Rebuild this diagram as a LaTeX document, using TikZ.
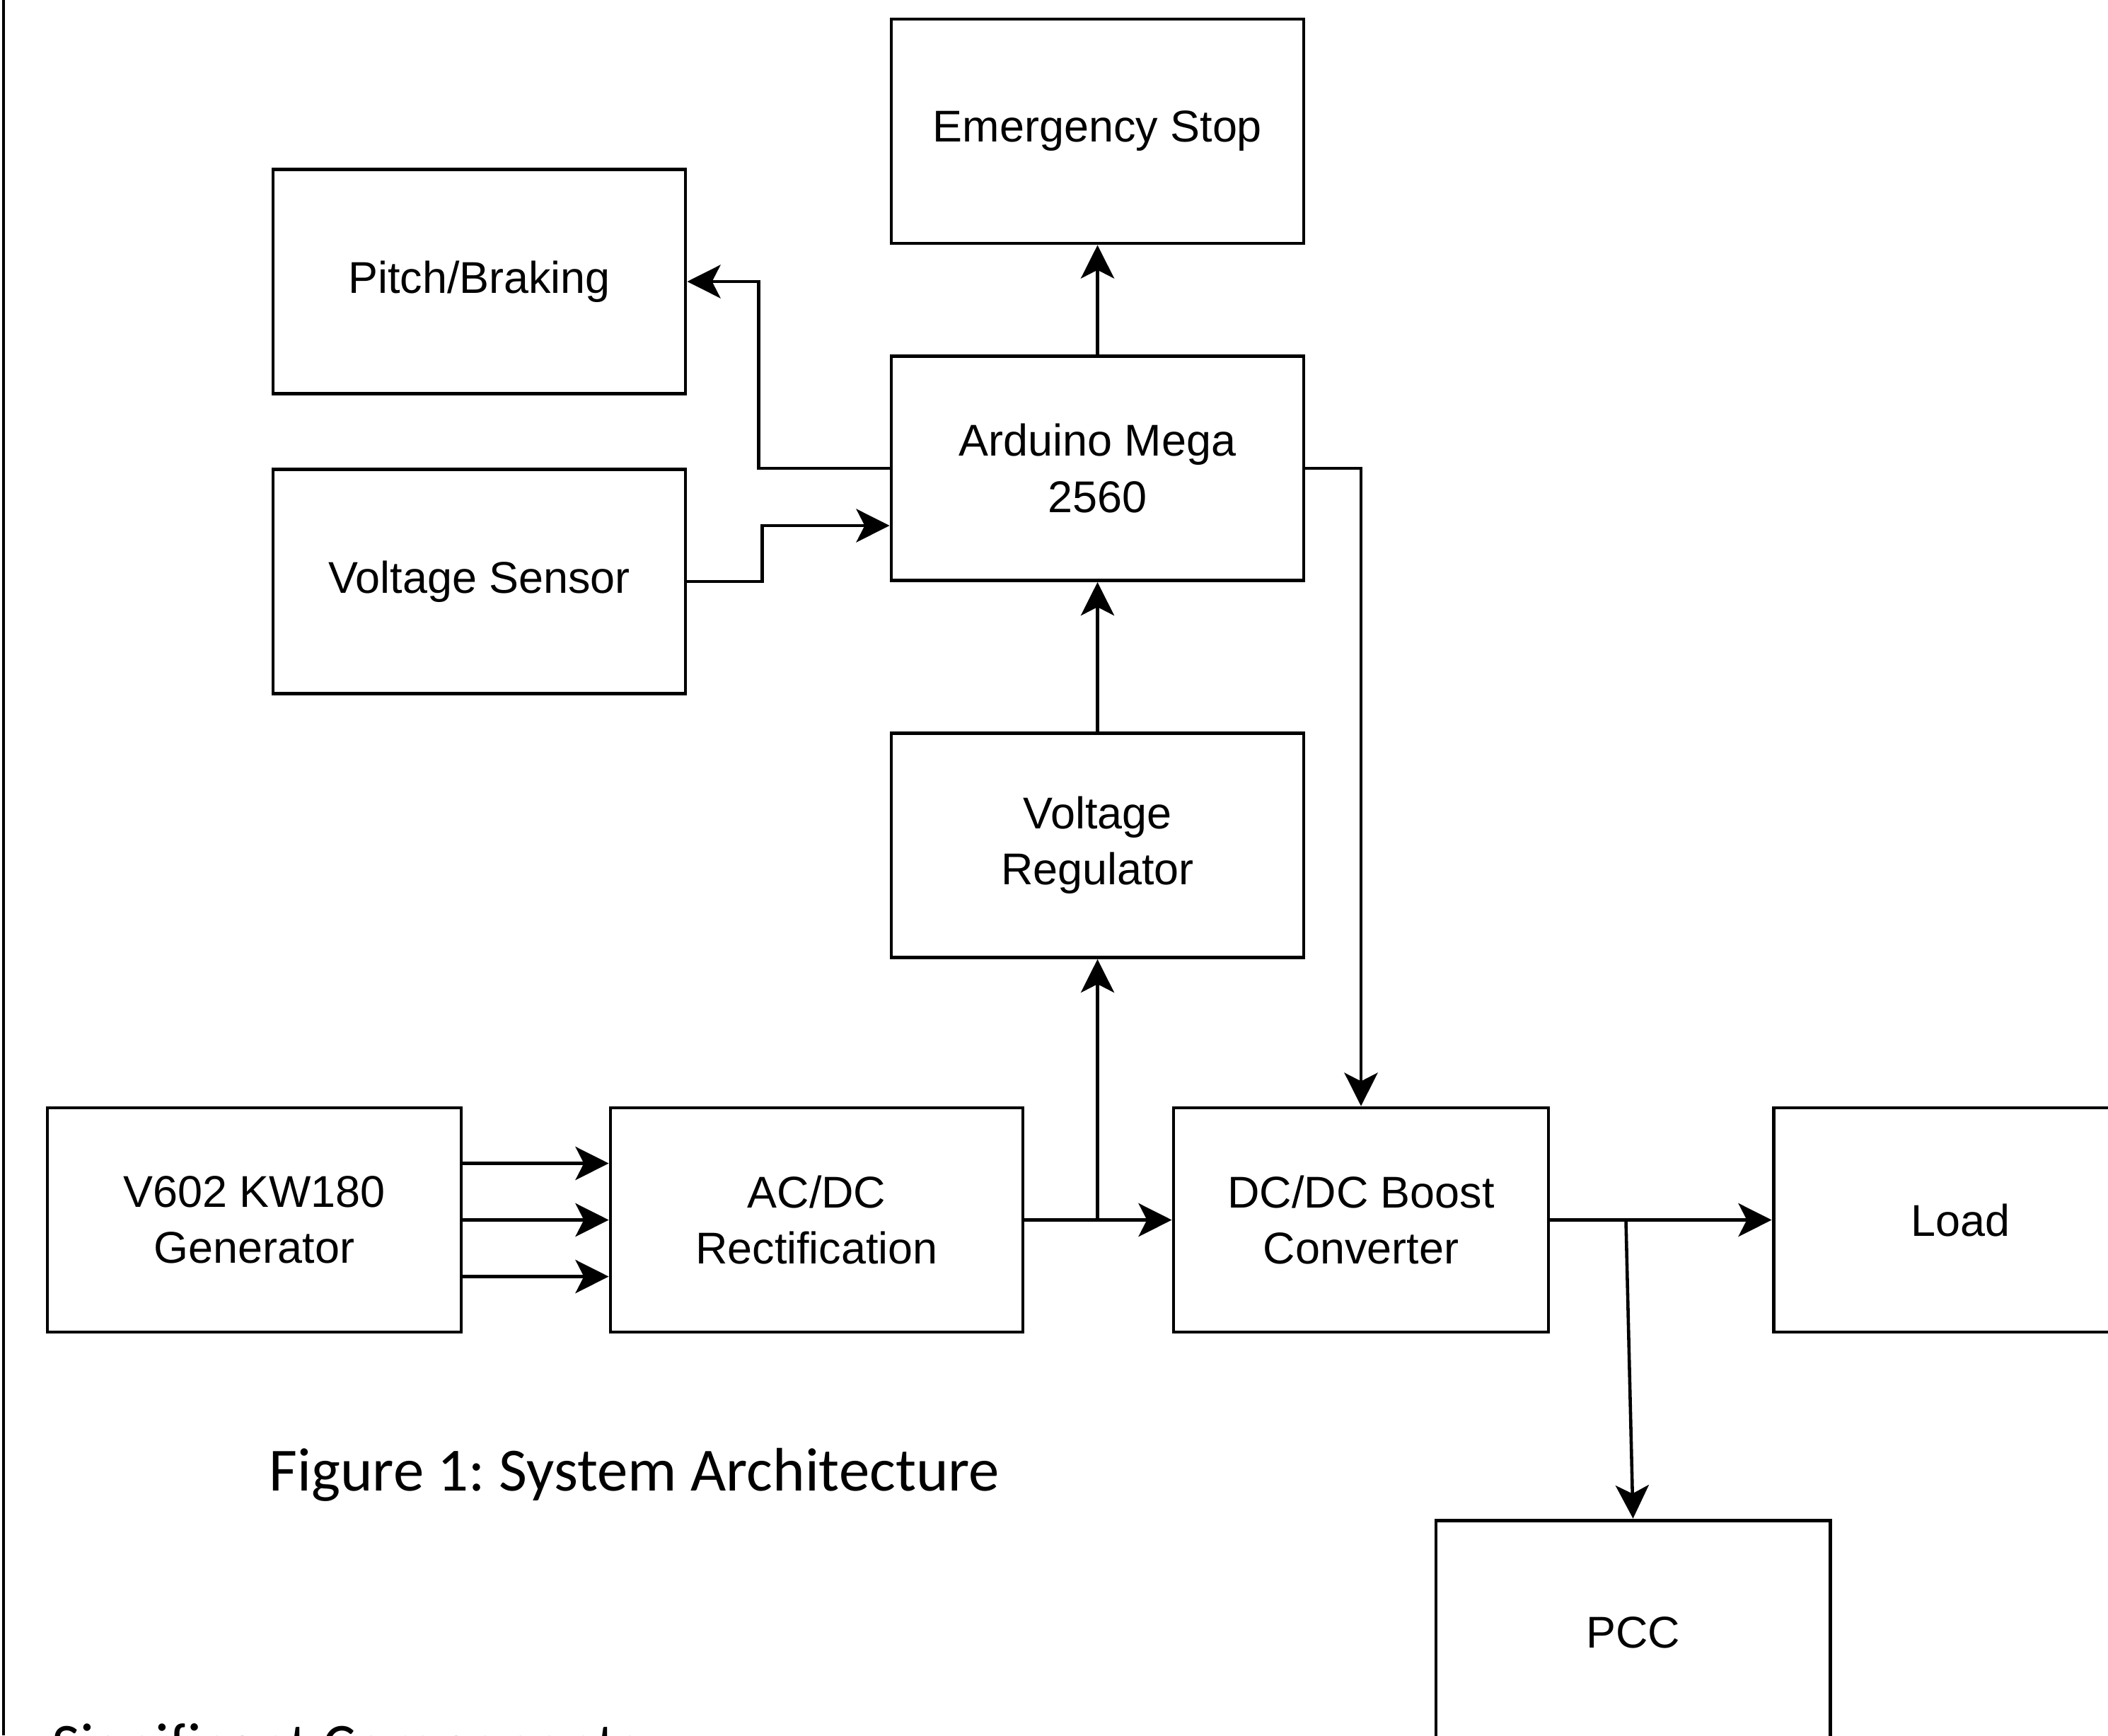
\documentclass[tikz,border=0pt]{standalone}
\usepackage{fontspec}
\setmainfont{Liberation Sans}
\newfontfamily\capfont{Carlito}
\usetikzlibrary{arrows.meta}
\frenchspacing

\begin{document}
\begin{tikzpicture}[
    box/.style={draw,line width=1.4pt,minimum width=5.83cm,minimum height=3.17cm,
        align=center,inner sep=2pt,font=\fontsize{17.9pt}{22.5pt}\selectfont},
    arr/.style={-{Stealth[length=13.4pt,width=13.4pt,inset=3.4pt]},line width=1.3pt},
    captext/.style={anchor=base west,inner sep=0pt,font=\capfont\fontsize{24.7pt}{29pt}\selectfont}
]
\useasboundingbox (0,0) rectangle (29.8,-24.53);
\clip (0,0) rectangle (29.8,-24.53);
\draw[line width=1.4pt] (0.05,0) -- (0.05,-24.53);

\node[box] (estop) at (15.515,-1.855) {Emergency Stop};
\node[box] (pitch) at (6.775,-3.98) {Pitch/Braking};
\node[box] (ard) at (15.515,-6.62) {Arduino Mega\\2560};
\node[box] (vsens) at (6.775,-8.22) {Voltage Sensor};
\node[box] (vreg) at (15.515,-11.95) {Voltage\\Regulator};
\node[box,minimum width=5.85cm] (gen) at (3.595,-17.245) {V602 KW180\\Generator};
\node[box] (acdc) at (11.545,-17.245) {AC/DC\\Rectification};
\node[box,minimum width=5.3cm] (dcdc) at (19.24,-17.245) {DC/DC Boost\\Converter};
\node[box,minimum width=5.28cm] (load) at (27.71,-17.245) {Load};
\node[box,minimum width=5.57cm] (pcc) at (23.085,-23.075) {PCC};

\node[captext] (fig) at (3.8,-21.07) {Figure 1: System Architecture};
\node[captext] (sig) at (0.73,-24.96) {Significant Components};

\draw[arr] (ard.north) -- (estop.south);
\draw[arr] (ard.west) -- ++(-1.85,0) |- (pitch.east);
\draw[arr] (vsens.east) -- ++(1.06,0) |- ([yshift=-0.81cm]ard.west);
\draw[arr] (ard.east) -| (dcdc.north);
\draw[arr] (vreg.north) -- (ard.south);
\foreach \dy in {0.8,0,-0.8}
    \draw[arr] ([yshift=\dy cm]gen.east) -- ([yshift=\dy cm]acdc.west);
\draw[arr] (acdc.east) -- (dcdc.west);
\coordinate (tapreg) at (acdc.east -| vreg.south);
\draw[arr] (tapreg) -- (vreg.south);
\draw[arr] (dcdc.east) -- (load.west);
\coordinate (tappcc) at ([xshift=1.07cm]dcdc.east);
\draw[arr] (tappcc) -- (pcc.north);
\end{tikzpicture}
\end{document}
